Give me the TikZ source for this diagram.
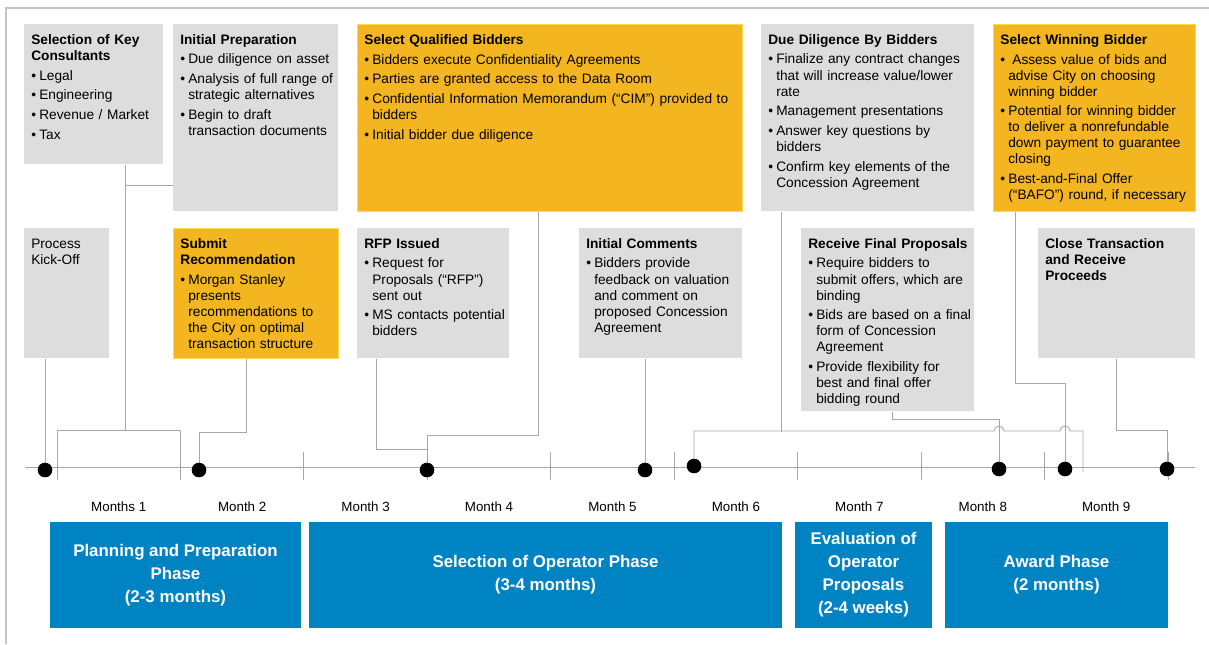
\documentclass[tikz,border=0pt]{standalone}
\usepackage{fontspec}
\setmainfont{Liberation Sans}
\usetikzlibrary{calc}

\definecolor{boxgray}{HTML}{DDDDDD}
\definecolor{boxgold}{HTML}{F3B520}
\definecolor{goldedge}{HTML}{FFDA4A}
\definecolor{phaseblue}{HTML}{0083C3}
\definecolor{linkgray}{HTML}{A6A6A6}
\definecolor{framegray}{HTML}{C4C4C4}

\newcommand\boxfont{\fontsize{9.75pt}{11.4pt}\selectfont}
\newcommand\phasefont{\fontsize{12pt}{16.3pt}\selectfont\bfseries}
\newcommand\monthfont{\fontsize{9.5pt}{11pt}\selectfont}
\newcommand\boxsetup{\rightskip=-8pt plus 1fil\relax\hyphenpenalty=10000\relax\exhyphenpenalty=10000\relax}
\newcommand\itm[1]{\par\vspace{2.6pt}\hangindent=0.2cm\hangafter=1\noindent\makebox[0.2cm][l]{\textbullet}#1\par}

\tikzset{
  pane/.style 2 args={anchor=north west, inner xsep=0.175cm, inner ysep=0.15cm,
    text width=#1, text height=0.35cm, text depth=#2, font=\boxfont,
    execute at begin node=\boxsetup},
  graypane/.style 2 args={pane={#1}{#2}, fill=boxgray},
  goldpane/.style 2 args={pane={#1}{#2}, fill=boxgold, draw=goldedge, line width=0.5pt},
  phase/.style={fill=phaseblue, text=white, font=\phasefont, align=center, inner sep=0pt},
  link/.style={draw=linkgray, line width=0.6pt},
  milestone/.style={circle, fill=black, inner sep=0pt, minimum size=0.36cm},
  monthlabel/.style={font=\monthfont, inner sep=0pt}
}

\begin{document}
\begin{tikzpicture}[x=0.025cm,y=-0.025cm]
	\useasboundingbox (0,0) rectangle (1209,644);
	\draw[framegray, line width=1.2pt] (6,644) -- (6,8) -- (1209,8);
	%
	% upper row
	\node[graypane={3.125cm}{2.85cm}] (cons) at (24,24) {\textbf{Selection of Key\\Consultants}
		\itm{Legal}
		\itm{Engineering}
		\itm{Revenue / Market}
		\itm{Tax}};
	\node[graypane={3.775cm}{4.025cm}] (prep) at (173,24) {\textbf{Initial Preparation}
		\itm{Due diligence on asset}
		\itm{Analysis of full range of\newline strategic alternatives}
		\itm{Begin to draft\newline transaction documents}};
	\node[goldpane={9.275cm}{4.025cm}] (qual) at (357,24) {\textbf{Select Qualified Bidders}
		\itm{Bidders execute Confidentiality Agreements}
		\itm{Parties are granted access to the Data Room}
		\itm{Confidential Information Memorandum (“CIM”) provided to\newline bidders}
		\itm{Initial bidder due diligence}};
	\node[graypane={4.975cm}{4.025cm}] (dued) at (761,24) {\textbf{Due Diligence By Bidders}
		\itm{Finalize any contract changes\newline that will increase value/lower\newline rate}
		\itm{Management presentations}
		\itm{Answer key questions by\newline bidders}
		\itm{Confirm key elements of the\newline Concession Agreement}};
	\node[goldpane={4.7cm}{4.025cm}] (win) at (993,24) {\textbf{Select Winning Bidder}
		\itm{\hspace{0.1cm}Assess value of bids and\newline advise City on choosing\newline winning bidder}
		\itm{Potential for winning bidder\newline to deliver a nonrefundable\newline down payment to guarantee\newline closing}
		\itm{Best-and-Final Offer\newline (“BAFO”) round, if necessary}};
	%
	% lower row
	\node[graypane={1.775cm}{2.6cm}] (kick) at (24,228) {Process\\Kick-Off};
	\node[goldpane={3.775cm}{2.6cm}] (subm) at (173,228) {\textbf{Submit\\Recommendation}
		\itm{Morgan Stanley\newline presents\newline recommendations to\newline the City on optimal\newline transaction structure}};
	\node[graypane={3.45cm}{2.6cm}] (rfp) at (357,228) {\textbf{RFP Issued}
		\itm{Request for\newline Proposals (“RFP”)\newline sent out}
		\itm{MS contacts potential\newline bidders}};
	\node[graypane={3.725cm}{2.6cm}] (comm) at (579,228) {\textbf{Initial Comments}
		\itm{Bidders provide\newline feedback on valuation\newline and comment on\newline proposed Concession\newline Agreement}};
	\node[graypane={3.975cm}{3.925cm}] (fin) at (801,228) {\textbf{Receive Final Proposals}
		\itm{Require bidders to\newline submit offers, which are\newline binding}
		\itm{Bids are based on a final\newline form of Concession\newline Agreement}
		\itm{Provide flexibility for\newline best and final offer\newline bidding round}};
	\node[graypane={3.575cm}{2.6cm}] (close) at (1038,228) {\textbf{Close Transaction\\and Receive\\Proceeds}};
	%
	% timeline
	\draw[link] (25,467) -- (1195,467);
	\foreach \k in {0,...,9} {
		\coordinate (t\k) at ({57+123.44*\k},467);
		\draw[link] (t\k) ++(0,-15) -- ++(0,28);
	}
	\node[milestone] (d1) at (45,470) {};
	\node[milestone] (d2) at (199,470) {};
	\node[milestone] (d3) at (427,470) {};
	\node[milestone] (d4) at (645,470) {};
	\node[milestone] (d5) at (694,466) {};
	\node[milestone] (d6) at (999,469) {};
	\node[milestone] (d7) at (1065,469) {};
	\node[milestone] (d8) at (1167,469) {};
	%
	% connectors
	\draw[link] (d1) -- (d1 |- kick.south);
	\draw[link] ($(t0)+(0,13)$) |- ($(t1)+(0,-37)$) -- ($(t1)+(0,13)$);
	\draw[link] ($(cons.south west)+(101,0)$) -- ++(0,266);
	\draw[link] ($(prep.north west)+(0,161)$) -- ++(-48,0);
	\draw[link] ($(subm.south west)+(73,0)$) -- ++(0,74) -| (d2);
	\draw[link] ($(qual.south west)+(181,0)$) -- ++(0,224) -| (d3);
	\draw[link] ($(rfp.south west)+(19,0)$) -- ++(0,91) -| (d3);
	\draw[link] (comm.south -| d4) -- (d4);
	\draw[link] ($(dued.south west)+(20,0)$) -- ++(0,220);
	\draw[link] (d5) |- ($(d6)+(-5,-38)$) arc[start angle=180, end angle=360, radius=5]
		-- ($(d7)+(-5,-38)$) arc[start angle=180, end angle=360, radius=5]
		-- ($(d7)+(18,-38)$) -- ++(0,41);
	\draw[link] ($(fin.south west)+(91,0)$) -- ++(0,8) -| (d6);
	\draw[link] ($(win.south west)+(22,0)$) -- ++(0,172) -| (d7);
	\draw[link] (close.south) -- ++(0,72) -| (d8);
	% redraw dots on top
	\foreach \d in {d1,d2,d3,d4,d5,d6,d7,d8}
		\fill (\d) circle[radius=7.2];
	%
	% months
	\foreach \i/\t in {1/Months 1,2/Month 2,3/Month 3,4/Month 4,5/Month 5,6/Month 6,7/Month 7,8/Month 8,9/Month 9}
		\node[monthlabel] (m\i) at ({57+123.44*(\i-0.5)},507) {\t};
	%
	% phases
	\node[phase, minimum width=6.275cm, minimum height=2.65cm] (plan) at (175.5,575) {Planning and Preparation\\Phase\\(2-3 months)};
	\node[phase, minimum width=11.825cm, minimum height=2.65cm] (sel) at (545.5,575) {Selection of Operator Phase\\(3-4 months)};
	\node[phase, minimum width=3.425cm, minimum height=2.65cm] (eval) at (863.5,575) {Evaluation of\\Operator\\Proposals\\(2-4 weeks)};
	\node[phase, minimum width=5.575cm, minimum height=2.65cm] (award) at (1056.5,575) {Award Phase\\(2 months)};
\end{tikzpicture}
\end{document}
